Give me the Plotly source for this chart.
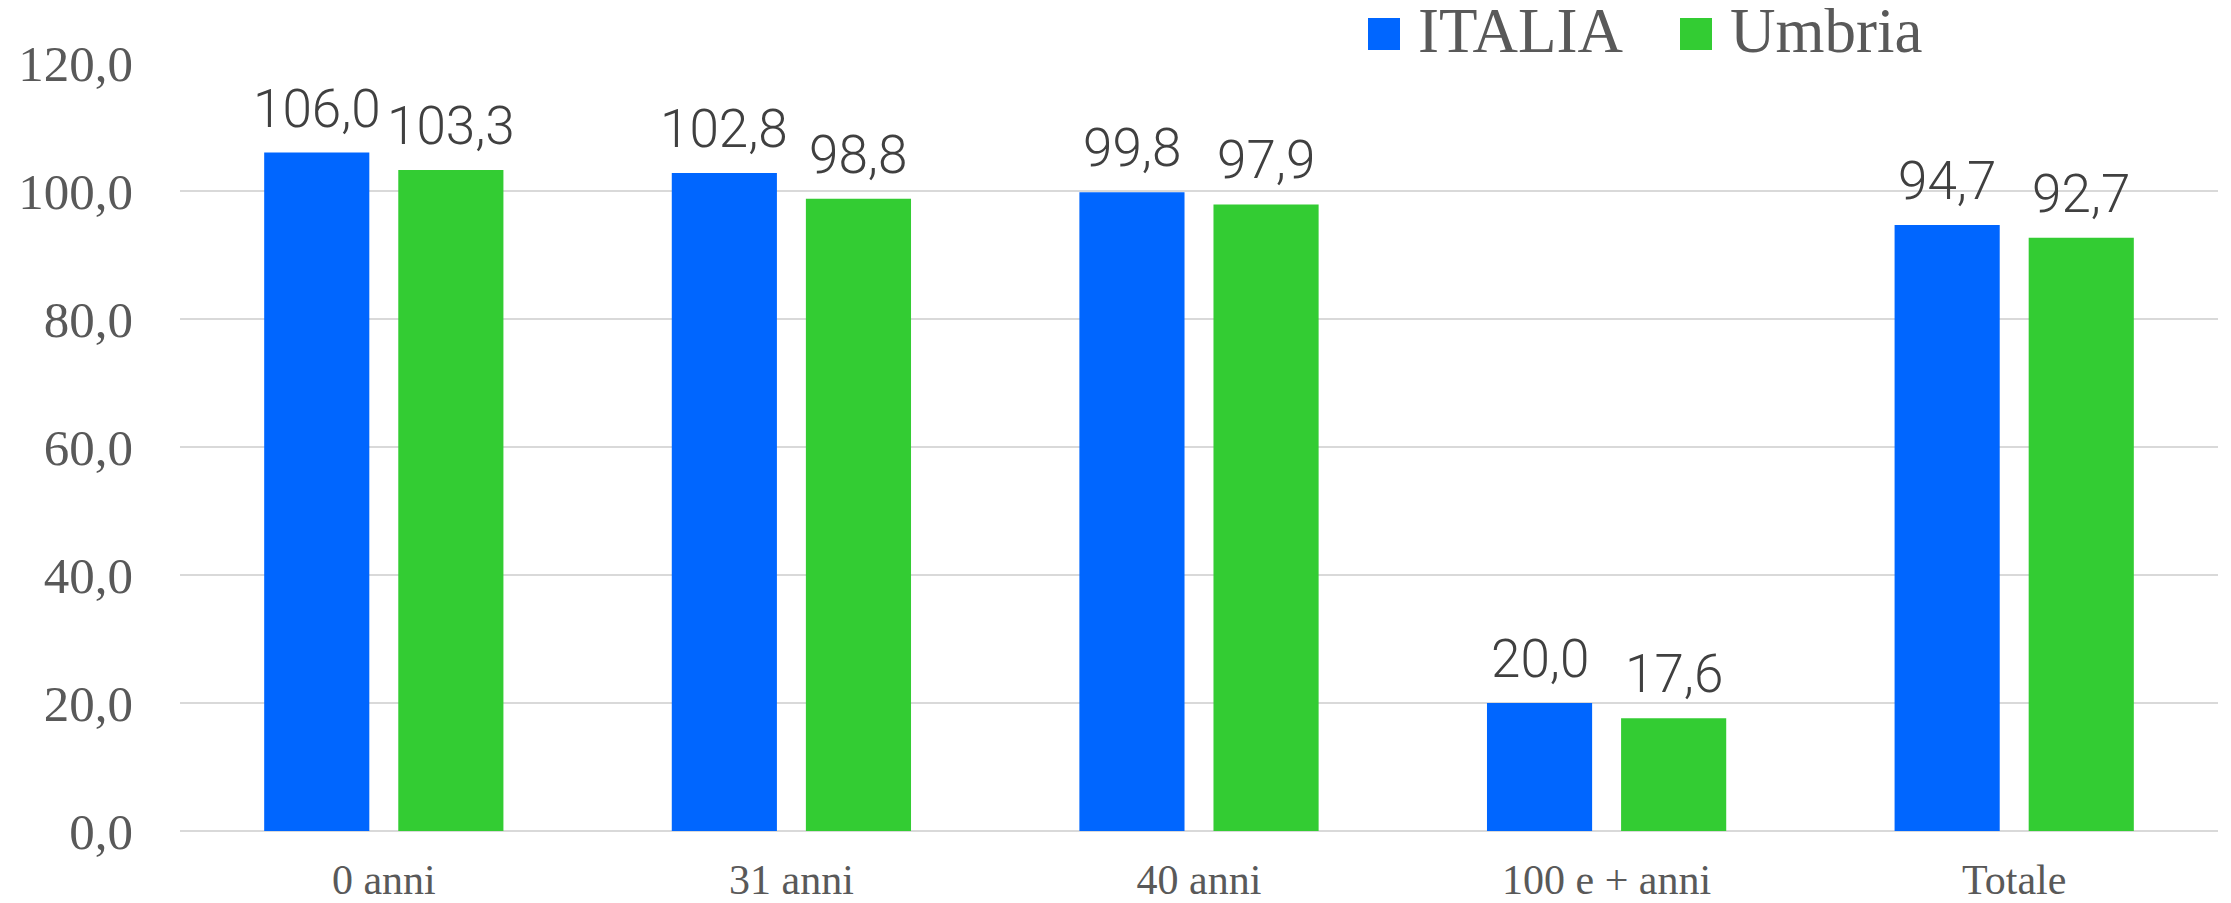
import plotly.graph_objects as go

categories = ["0 anni", "31 anni", "40 anni", "100 e + anni", "Totale"]
italia = [106.0, 102.8, 99.8, 20.0, 94.7]
umbria = [103.3, 98.8, 97.9, 17.6, 92.7]
series_names = ["ITALIA", "Umbria"]
series_colors = ["#0066FF", "#33CC33"]
y_ticks = [0, 20, 40, 60, 80, 100, 120]

# page body has an 8px default margin: offset the figure accordingly
OFF = 8
W, H = 2231 - 2 * OFF, 903 - OFF
# plot area in screen pixels: x 180..2218, y 63..831
ML = 180 - OFF
MR = W - (2218 - OFF)
MT = 63 - OFF
MB = H - (831 - OFF)
pw, ph = W - ML - MR, H - MT - MB
BARGAP, GROUPGAP = 0.342, 0.216

def fmt(v):
    return f"{v:.1f}".replace(".", ",")

label_font = dict(family="Roboto, sans-serif", size=53, color="#404040", weight=300)

fig = go.Figure()
for name, vals, col in zip(series_names, [italia, umbria], series_colors):
    fig.add_trace(go.Bar(
        x=categories, y=vals, name=name, marker=dict(color=col, line=dict(width=0)),
        showlegend=False, hoverinfo="x+y",
    ))

# data labels as annotations above each bar
cat_w = pw / len(categories)
offset = cat_w * (1 - BARGAP) / 4
for si, vals in enumerate([italia, umbria]):
    xs = -offset if si == 0 else offset
    for c, v in zip(categories, vals):
        fig.add_annotation(x=c, y=v, xref="x", yref="y", text=fmt(v), showarrow=False,
                           xanchor="center", yanchor="bottom", xshift=xs, yshift=11,
                           font=label_font)

# manual legend (screen pixel -> paper conversion)
def px_x(px):
    return (px - OFF - ML) / pw
def px_y(py):
    return (H - MB - (py - OFF)) / ph

legend_items = [(1368, 1416), (1680, 1728)]
for (sx, tx), name, col in zip(legend_items, series_names, series_colors):
    fig.add_shape(type="rect", xref="paper", yref="paper",
                  x0=px_x(sx), x1=px_x(sx + 32), y0=px_y(50), y1=px_y(18),
                  fillcolor=col, line=dict(width=0), layer="above")
    fig.add_annotation(xref="paper", yref="paper", x=px_x(tx), y=px_y(31),
                       xanchor="left", yanchor="middle", showarrow=False,
                       text=name, font=dict(family="Liberation Serif, Times New Roman, serif",
                                            size=63, color="#595959"))

fig.update_layout(
    width=W, height=H, autosize=False,
    margin=dict(l=ML, r=MR, t=MT, b=MB, pad=0, autoexpand=False),
    paper_bgcolor="white", plot_bgcolor="white",
    barmode="group", bargap=BARGAP, bargroupgap=GROUPGAP,
    separators=",.",
    showlegend=False,
    font=dict(family="Liberation Serif, Times New Roman, serif", color="#595959"),
)
fig.update_yaxes(range=[0, 120], tickvals=y_ticks, tickformat=".1f", automargin=False,
                 showgrid=True, gridcolor="#D9D9D9", gridwidth=1.5,
                 zeroline=True, zerolinecolor="#D9D9D9", zerolinewidth=2,
                 showline=False, ticks="", ticklabelstandoff=46,
                 tickfont=dict(family="Liberation Serif, Times New Roman, serif", size=51, color="#595959"))
fig.update_xaxes(showgrid=False, showline=False, ticks="", ticklabelstandoff=20, automargin=False,
                 tickfont=dict(family="Liberation Serif, Times New Roman, serif", size=42, color="#595959"))

fig.write_html("out.html")
